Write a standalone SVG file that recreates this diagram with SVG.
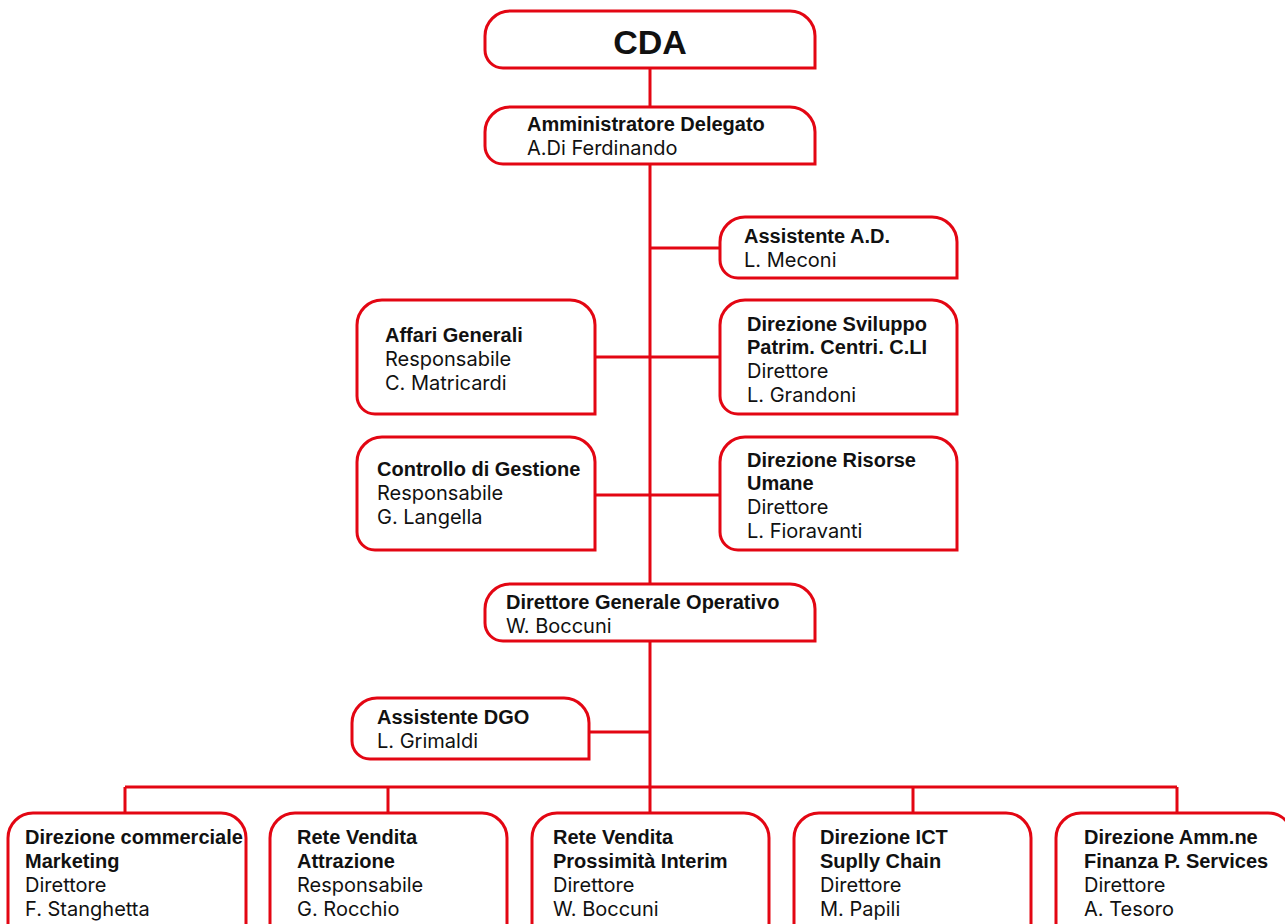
<svg xmlns="http://www.w3.org/2000/svg" width="1285" height="924" viewBox="0 0 1285 924">
<style>
.box{fill:#fff;stroke:#e30613;stroke-width:3}
.ln{fill:none;stroke:#e30613;stroke-width:3}
.b{font-family:"Liberation Sans",Arial,sans-serif;font-weight:700;font-size:20px;fill:#111}
.r{font-family:Inter,"Liberation Sans",sans-serif;font-weight:400;font-size:20px;fill:#111}
.t{font-family:"Liberation Sans",Arial,sans-serif;font-weight:700;font-size:34px;fill:#111}
</style>
<rect width="1285" height="924" fill="#fff"/>
<g id="connectors" class="ln">
<path d="M650 68V107"/>
<path d="M650 164V584"/>
<path d="M650 248H720"/>
<path d="M595 357H720"/>
<path d="M595 495H720"/>
<path d="M650 641V787"/>
<path d="M589 732H650"/>
<path d="M125 787H1177"/>
<path d="M125 787V813M388 787V813M650 787V813M913 787V813M1177 787V813"/>
</g>
<g id="cda">
<path class="box" d="M510 11H790A25 25 0 0 1 815 36V68H503A18 18 0 0 1 485 50V36A25 25 0 0 1 510 11Z"/>
<text class="t" x="650" y="54" text-anchor="middle">CDA</text>
</g>
<g id="ad">
<path class="box" d="M510 107H790A25 25 0 0 1 815 132V164H503A18 18 0 0 1 485 146V132A25 25 0 0 1 510 107Z"/>
<text class="b" x="527" y="131">Amministratore Delegato</text>
<text class="r" x="527" y="155">A.Di Ferdinando</text>
</g>
<g id="assistente-ad">
<path class="box" d="M745 217H932A25 25 0 0 1 957 242V278H738A18 18 0 0 1 720 260V242A25 25 0 0 1 745 217Z"/>
<text class="b" x="744" y="243">Assistente A.D.</text>
<text class="r" x="744" y="267">L. Meconi</text>
</g>
<g id="affari-generali">
<path class="box" d="M382 300H570A25 25 0 0 1 595 325V414H375A18 18 0 0 1 357 396V325A25 25 0 0 1 382 300Z"/>
<text class="b" x="385" y="342">Affari Generali</text>
<text class="r" x="385" y="366">Responsabile</text>
<text class="r" x="385" y="390">C. Matricardi</text>
</g>
<g id="sviluppo">
<path class="box" d="M745 300H932A25 25 0 0 1 957 325V414H738A18 18 0 0 1 720 396V325A25 25 0 0 1 745 300Z"/>
<text class="b" x="747" y="331">Direzione Sviluppo</text>
<text class="b" x="747" y="354">Patrim. Centri. C.LI</text>
<text class="r" x="747" y="378">Direttore</text>
<text class="r" x="747" y="402">L. Grandoni</text>
</g>
<g id="controllo">
<path class="box" d="M382 437H570A25 25 0 0 1 595 462V550H375A18 18 0 0 1 357 532V462A25 25 0 0 1 382 437Z"/>
<text class="b" x="377" y="476">Controllo di Gestione</text>
<text class="r" x="377" y="500">Responsabile</text>
<text class="r" x="377" y="524">G. Langella</text>
</g>
<g id="risorse-umane">
<path class="box" d="M745 437H932A25 25 0 0 1 957 462V550H738A18 18 0 0 1 720 532V462A25 25 0 0 1 745 437Z"/>
<text class="b" x="747" y="467">Direzione Risorse</text>
<text class="b" x="747" y="490">Umane</text>
<text class="r" x="747" y="514">Direttore</text>
<text class="r" x="747" y="538">L. Fioravanti</text>
</g>
<g id="dgo">
<path class="box" d="M510 584H790A25 25 0 0 1 815 609V641H503A18 18 0 0 1 485 623V609A25 25 0 0 1 510 584Z"/>
<text class="b" x="506" y="609">Direttore Generale Operativo</text>
<text class="r" x="506" y="633">W. Boccuni</text>
</g>
<g id="assistente-dgo">
<path class="box" d="M377 698H564A25 25 0 0 1 589 723V759H370A18 18 0 0 1 352 741V723A25 25 0 0 1 377 698Z"/>
<text class="b" x="377" y="724">Assistente DGO</text>
<text class="r" x="377" y="748">L. Grimaldi</text>
</g>
<g id="commerciale">
<path class="box" d="M33 813H221A25 25 0 0 1 246 838V960H8V838A25 25 0 0 1 33 813Z"/>
<text class="b" x="25" y="844">Direzione commerciale</text>
<text class="b" x="25" y="868">Marketing</text>
<text class="r" x="25" y="892">Direttore</text>
<text class="r" x="25" y="916">F. Stanghetta</text>
</g>
<g id="attrazione">
<path class="box" d="M295 813H482A25 25 0 0 1 507 838V960H270V838A25 25 0 0 1 295 813Z"/>
<text class="b" x="297" y="844">Rete Vendita</text>
<text class="b" x="297" y="868">Attrazione</text>
<text class="r" x="297" y="892">Responsabile</text>
<text class="r" x="297" y="916">G. Rocchio</text>
</g>
<g id="prossimita">
<path class="box" d="M557 813H744A25 25 0 0 1 769 838V960H532V838A25 25 0 0 1 557 813Z"/>
<text class="b" x="553" y="844">Rete Vendita</text>
<text class="b" x="553" y="868">Prossimità Interim</text>
<text class="r" x="553" y="892">Direttore</text>
<text class="r" x="553" y="916">W. Boccuni</text>
</g>
<g id="ict">
<path class="box" d="M819 813H1006A25 25 0 0 1 1031 838V960H794V838A25 25 0 0 1 819 813Z"/>
<text class="b" x="820" y="844">Direzione ICT</text>
<text class="b" x="820" y="868">Suplly Chain</text>
<text class="r" x="820" y="892">Direttore</text>
<text class="r" x="820" y="916">M. Papili</text>
</g>
<g id="amministrazione">
<path class="box" d="M1081 813H1268A25 25 0 0 1 1293 838V960H1056V838A25 25 0 0 1 1081 813Z"/>
<text class="b" x="1084" y="844">Direzione Amm.ne</text>
<text class="b" x="1084" y="868">Finanza P. Services</text>
<text class="r" x="1084" y="892">Direttore</text>
<text class="r" x="1084" y="916">A. Tesoro</text>
</g>
</svg>
